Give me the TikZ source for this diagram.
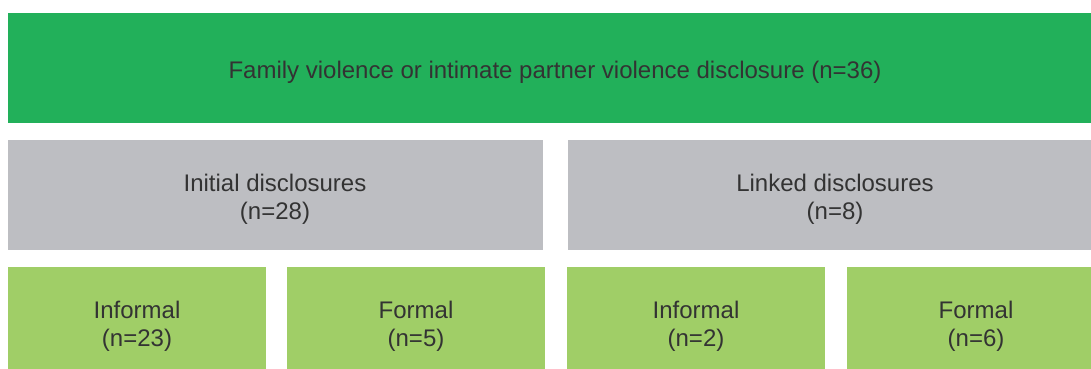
\documentclass[tikz,border=0pt]{standalone}
\usepackage{fontspec}
\setmainfont{Liberation Sans}
\definecolor{topgreen}{HTML}{22B05A}
\definecolor{midgray}{HTML}{BDBEC2}
\definecolor{lightgreen}{HTML}{A0CE67}
\definecolor{txt}{HTML}{333333}
\begin{document}
\begin{tikzpicture}[x=1pt,y=-1pt,
  box/.style={inner sep=0pt,outer sep=0pt,text=txt,align=center,font=\fontsize{24}{28}\selectfont},
]
\useasboundingbox (0,0) rectangle (1091,369);
\fill[topgreen] (8,13) rectangle (1091,123);
\fill[midgray] (8,140) rectangle (543,250);
\fill[midgray] (568,140) rectangle (1091,250);
\fill[lightgreen] (8,267) rectangle (266,369);
\fill[lightgreen] (287,267) rectangle (545,369);
\fill[lightgreen] (567,267) rectangle (825,369);
\fill[lightgreen] (847,267) rectangle (1091,369);
\node[box] (top) at (555,72) {Family violence or intimate partner violence disclosure (n=36)};
\node[box] (init) at (275,199) {Initial disclosures\\(n=28)};
\node[box] (link) at (835,199) {Linked disclosures\\(n=8)};
\node[box] (b1) at (137,326) {Informal\\(n=23)};
\node[box] (b2) at (416,326) {Formal\\(n=5)};
\node[box] (b3) at (696,326) {Informal\\(n=2)};
\node[box] (b4) at (976,326) {Formal\\(n=6)};
\end{tikzpicture}
\end{document}
